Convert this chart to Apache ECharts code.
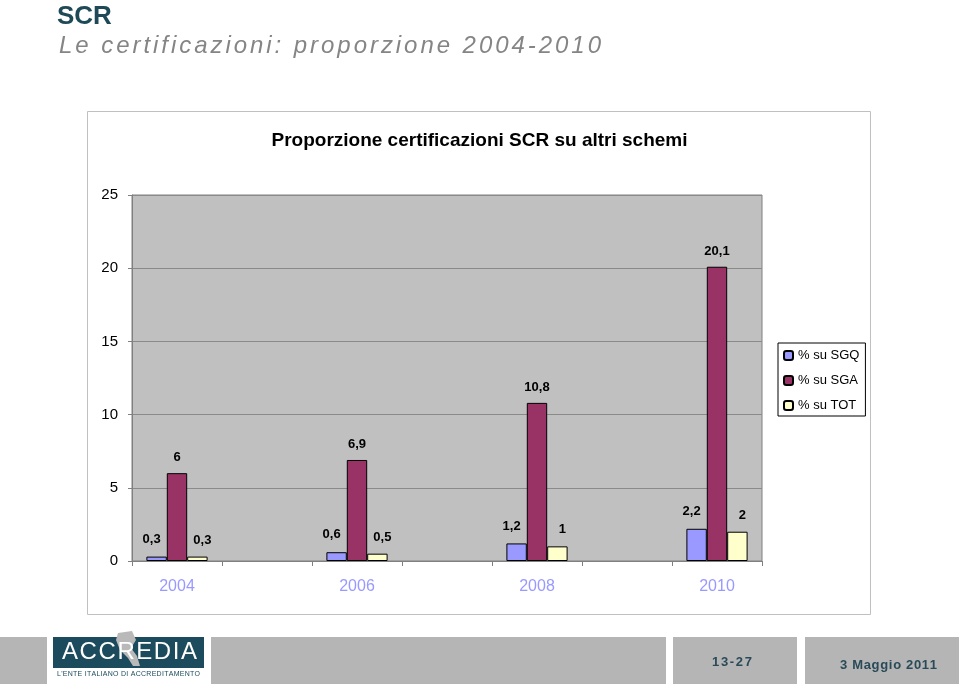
<!DOCTYPE html>
<html><head><meta charset="utf-8">
<script src="https://cdn.jsdelivr.net/npm/echarts@6/dist/echarts.min.js"></script>
<style>html,body{margin:0;padding:0;background:#fff}#c{width:959px;height:684px}</style>
</head><body><div id="c"></div>
<script>
const categories = ['2004','2005','2006','2007','2008','2009','2010'];
const sgq = [0.3, null, 0.6, null, 1.2, null, 2.2];
const sga = [6, null, 6.9, null, 10.8, null, 20.1];
const tot = [0.3, null, 0.5, null, 1, null, 2];
const seriesNames = ['% su SGQ', '% su SGA', '% su TOT'];
const yTicks = [0, 5, 10, 15, 20, 25];

const chart = echarts.init(document.getElementById('c'), null, {renderer: 'canvas'});
const fmt = p => String(p.value).replace('.', ',');
const lbl = {show: true, position: 'top', distance: 9, color: '#000', fontWeight: 'bold', fontSize: 13, fontFamily: 'Liberation Sans', formatter: fmt};
function mk(name, data, color, offset) {
  return {name, type: 'bar', data, barGap: '0%', barCategoryGap: '32%',
    itemStyle: {color, borderColor: '#000', borderWidth: 1}, label: Object.assign({}, lbl, {offset})};
}
// letter-spaced text: spreads the characters of a string over a target width
const mctx = document.createElement('canvas').getContext('2d');
function spaced(str, x, y, targetW, style) {
  const font = (style.fontStyle || 'normal') + ' ' + (style.fontWeight || 'normal') + ' ' + style.fontSize + 'px ' + style.fontFamily;
  mctx.font = font;
  const widths = Array.from(str).map(ch => mctx.measureText(ch).width);
  const total = widths.reduce((a, b) => a + b, 0);
  const gap = (targetW - total) / Math.max(1, str.length - 1);
  const children = [];
  let cx = 0;
  Array.from(str).forEach((ch, i) => {
    children.push({type: 'text', x: cx, y: 0, style: Object.assign({text: ch}, style)});
    cx += widths[i] + gap;
  });
  return {type: 'group', x, y, children};
}
const footerPanels = [[0,47],[211,666],[673,797],[805,959]];
const graphic = [
  {type: 'rect', shape: {x: 87.5, y: 111.5, width: 783, height: 503}, style: {fill: 'none', stroke: '#c0c0c0', lineWidth: 1}, z: -10},
  {type: 'text', left: 57, top: 4, style: {text: 'SCR', fontSize: 26, fontWeight: 'bold', fill: '#1e4a58', fontFamily: 'Liberation Sans'}},
  spaced('Le certificazioni: proporzione 2004-2010', 59, 34, 542, {fontSize: 24, fontStyle: 'italic', fill: '#858585', fontFamily: 'Liberation Sans'})
];
footerPanels.forEach(([a,b]) => graphic.push({type: 'rect', shape: {x: a, y: 637, width: b - a, height: 47}, style: {fill: '#b5b5b5'}}));
graphic.push(
  {type: 'rect', shape: {x: 53, y: 637, width: 151, height: 31}, style: {fill: '#1b4b5c'}},
  {type: 'rect', shape: {x: 53, y: 668, width: 151, height: 13}, style: {fill: '#ffffff'}},
  {type: 'polygon', shape: {points: [[118,633],[132,631],[136,640],[131,648],[137,656],[140,666],[133,666],[128,658],[120,650],[116,640]]}, style: {fill: '#b9b9b9'}},
  spaced('ACCREDIA', 62, 640, 135, {fontSize: 24, fill: '#ffffff', fontFamily: 'Liberation Sans'}),
  spaced("L'ENTE ITALIANO DI ACCREDITAMENTO", 57, 671, 143, {fontSize: 7, fill: '#1b4b5c', fontFamily: 'Liberation Sans'}),
  spaced('13-27', 712, 656, 40, {fontSize: 13, fontWeight: 'bold', fill: '#2a4a58', fontFamily: 'Liberation Sans'}),
  spaced('3 Maggio 2011', 840, 659, 97, {fontSize: 13, fontWeight: 'bold', fill: '#2a4a58', fontFamily: 'Liberation Sans'})
);
chart.setOption({
  animation: false,
  backgroundColor: '#ffffff',
  title: {text: 'Proporzione certificazioni SCR su altri schemi', left: 'center', top: 126, textStyle: {fontSize: 19, fontWeight: 'bold', color: '#000', fontFamily: 'Liberation Sans'}},
  legend: {orient: 'vertical', left: 778, top: 343, width: 88, data: seriesNames, itemWidth: 9, itemHeight: 9, itemGap: 12,
    padding: [6, 6, 4, 5], borderColor: '#000', borderWidth: 1,
    textStyle: {fontSize: 13, color: '#000', fontFamily: 'Liberation Sans'}},
  grid: {left: 132, right: 197, top: 195, bottom: 123, show: true, backgroundColor: '#c0c0c0', borderColor: '#808080', borderWidth: 1, containLabel: false},
  xAxis: {type: 'category', data: categories,
    axisLine: {lineStyle: {color: '#808080'}},
    axisTick: {show: true, interval: 0, length: 5, lineStyle: {color: '#808080'}},
    axisLabel: {interval: 1, margin: 18, fontSize: 16, color: '#9999ff', fontFamily: 'Liberation Sans'}},
  yAxis: {type: 'value', min: yTicks[0], max: yTicks[yTicks.length - 1], interval: 5,
    axisLine: {show: true, lineStyle: {color: '#808080'}},
    axisTick: {show: true, length: 4, lineStyle: {color: '#808080'}},
    axisLabel: {margin: 14, fontSize: 15, color: '#000', fontFamily: 'Liberation Sans'},
    splitLine: {show: true, lineStyle: {color: '#8a8a8a', width: 1}}},
  series: [mk(seriesNames[0], sgq, '#9999ff', [-5, -2]), mk(seriesNames[1], sga, '#993366', [0, 0]), mk(seriesNames[2], tot, '#ffffcc', [5, -1])],
  graphic
});
</script></body></html>
